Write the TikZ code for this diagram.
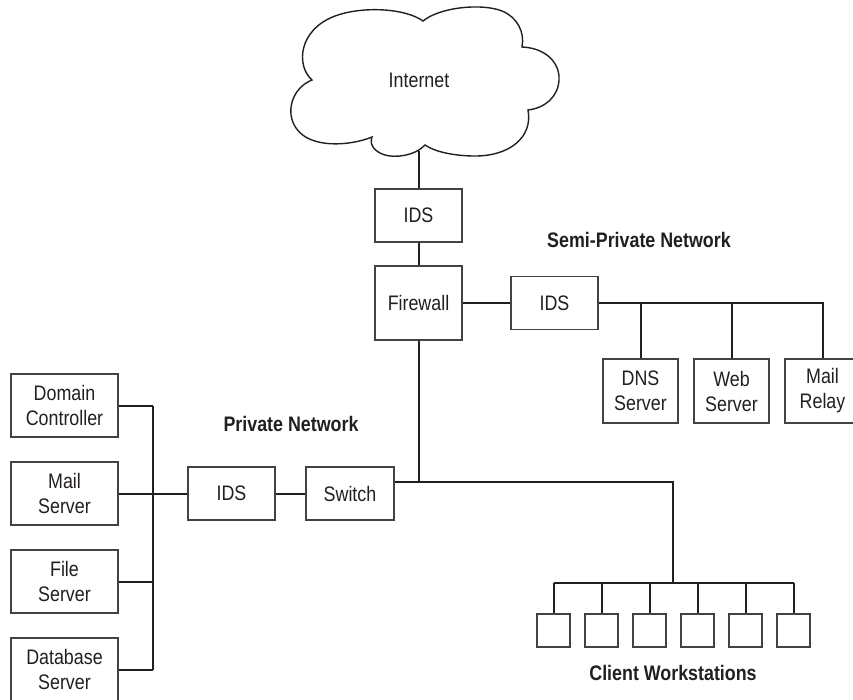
\documentclass[tikz,border=0pt]{standalone}
\usepackage{fontspec}
\setmainfont{Liberation Sans}[FakeStretch=0.85]
\usetikzlibrary{calc}
\definecolor{ink}{HTML}{231F20}
\begin{document}
\begin{tikzpicture}[x=1pt,y=-1pt,
  every node/.style={font=\fontsize{21}{25}\selectfont, text=ink},
  box/.style={draw=ink!85, line width=1.3pt, fill=white, inner sep=0pt, align=center},
  wire/.style={draw=ink, line width=2pt},
  title/.style={font=\fontsize{21}{25}\selectfont\bfseries, text=ink}]
\clip (0,0) rectangle (853,699);
\fill[white] (0,0) rectangle (853,699);

% cloud
\draw[draw=ink, line width=1.4pt]
  (312,80) .. controls (296,66) and (298,30) .. (335,16)
  .. controls (362,6) and (405,8) .. (423,21)
  .. controls (440,7) and (482,3) .. (502,11)
  .. controls (517,17) and (525,32) .. (522,47)
  .. controls (546,48) and (560,63) .. (559,80)
  .. controls (558,97) and (545,108) .. (528,110)
  .. controls (533,137) and (510,156) .. (475,156)
  .. controls (455,156) and (435,152) .. (425,145)
  .. controls (415,156) and (395,158) .. (385,155)
  .. controls (375,152) and (369,145) .. (372,137)
  .. controls (350,146) and (310,149) .. (296,128)
  .. controls (285,112) and (292,88) .. cycle;
\node (inet) at (419,80) {Internet};
\coordinate (cloudbot) at (418.5,151);

% top chain
\node[box, minimum width=87pt, minimum height=53pt] (ids1) at (418.5,215.5) {IDS};
\node[box, minimum width=87pt, minimum height=74pt] (fw) at (418.5,303) {Firewall};
\node[box, minimum width=87pt, minimum height=53pt] (ids2) at (554.5,303) {IDS};

% semi-private network
\node[title] (semi) at (639,240) {Semi-Private Network};
\node[box, minimum width=75pt, minimum height=64pt] (dns) at (640.5,391) {DNS\\Server};
\node[box, minimum width=75pt, minimum height=64pt] (web) at (731.5,391) {Web\\Server};
\node[box, minimum width=75pt, minimum height=64pt] (relay) at (822.5,391) {Mail\\Relay};

% private network
\node[title] (priv) at (291,424) {Private Network};
\node[box, minimum width=88pt, minimum height=53pt] (sw) at (350,493.5) {Switch};
\node[box, minimum width=87pt, minimum height=53pt] (ids3) at (231.5,493.5) {IDS};
\node[box, minimum width=107pt, minimum height=63pt] (dc) at (64.5,405.5) {Domain\\Controller};
\node[box, minimum width=107pt, minimum height=63pt] (ms) at (64.5,493.5) {Mail\\Server};
\node[box, minimum width=107pt, minimum height=63pt] (fs) at (64.5,581.5) {File\\Server};
\node[box, minimum width=107pt, minimum height=63pt] (db) at (64.5,669.5) {Database\\Server};
\coordinate (lbus) at (153,493.5);

% workstations
\foreach \i/\x in {1/553.5,2/601.5,3/649.5,4/697.5,5/745.5,6/793.5}
  \node[box, minimum width=33pt, minimum height=33pt] (ws\i) at (\x,630.5) {};
\node[title] (client) at (673,673) {Client Workstations};
\coordinate (mainbus) at (673,482);
\coordinate (wsbus) at (673,583);

% connectors
\draw[wire] (cloudbot) -- (ids1.north);
\draw[wire] (ids1.south) -- (fw.north);
\draw[wire] (fw.east) -- (ids2.west);
\draw[wire] (ids2.east) -- (relay.north |- ids2.east) -- (relay.north);
\draw[wire] (dns.north) -- (dns.north |- ids2.east);
\draw[wire] (web.north) -- (web.north |- ids2.east);

\draw[wire] ([yshift=11.5pt]sw.east) -- (mainbus) -- (wsbus);
\draw[wire] (fw.south) -- (fw.south |- mainbus);
\draw[wire] (ws1.north |- wsbus) -- (ws6.north |- wsbus);
\foreach \i in {1,...,6}
  \draw[wire] (ws\i.north) -- (ws\i.north |- wsbus);

\draw[wire] (ids3.east) -- (sw.west);
\draw[wire] (ids3.west) -- (lbus);
\draw[wire] (lbus |- dc.east) -- (lbus |- db.east);
\foreach \s in {dc,ms,fs,db}
  \draw[wire] (\s.east) -- (lbus |- \s.east);
\end{tikzpicture}
\end{document}
